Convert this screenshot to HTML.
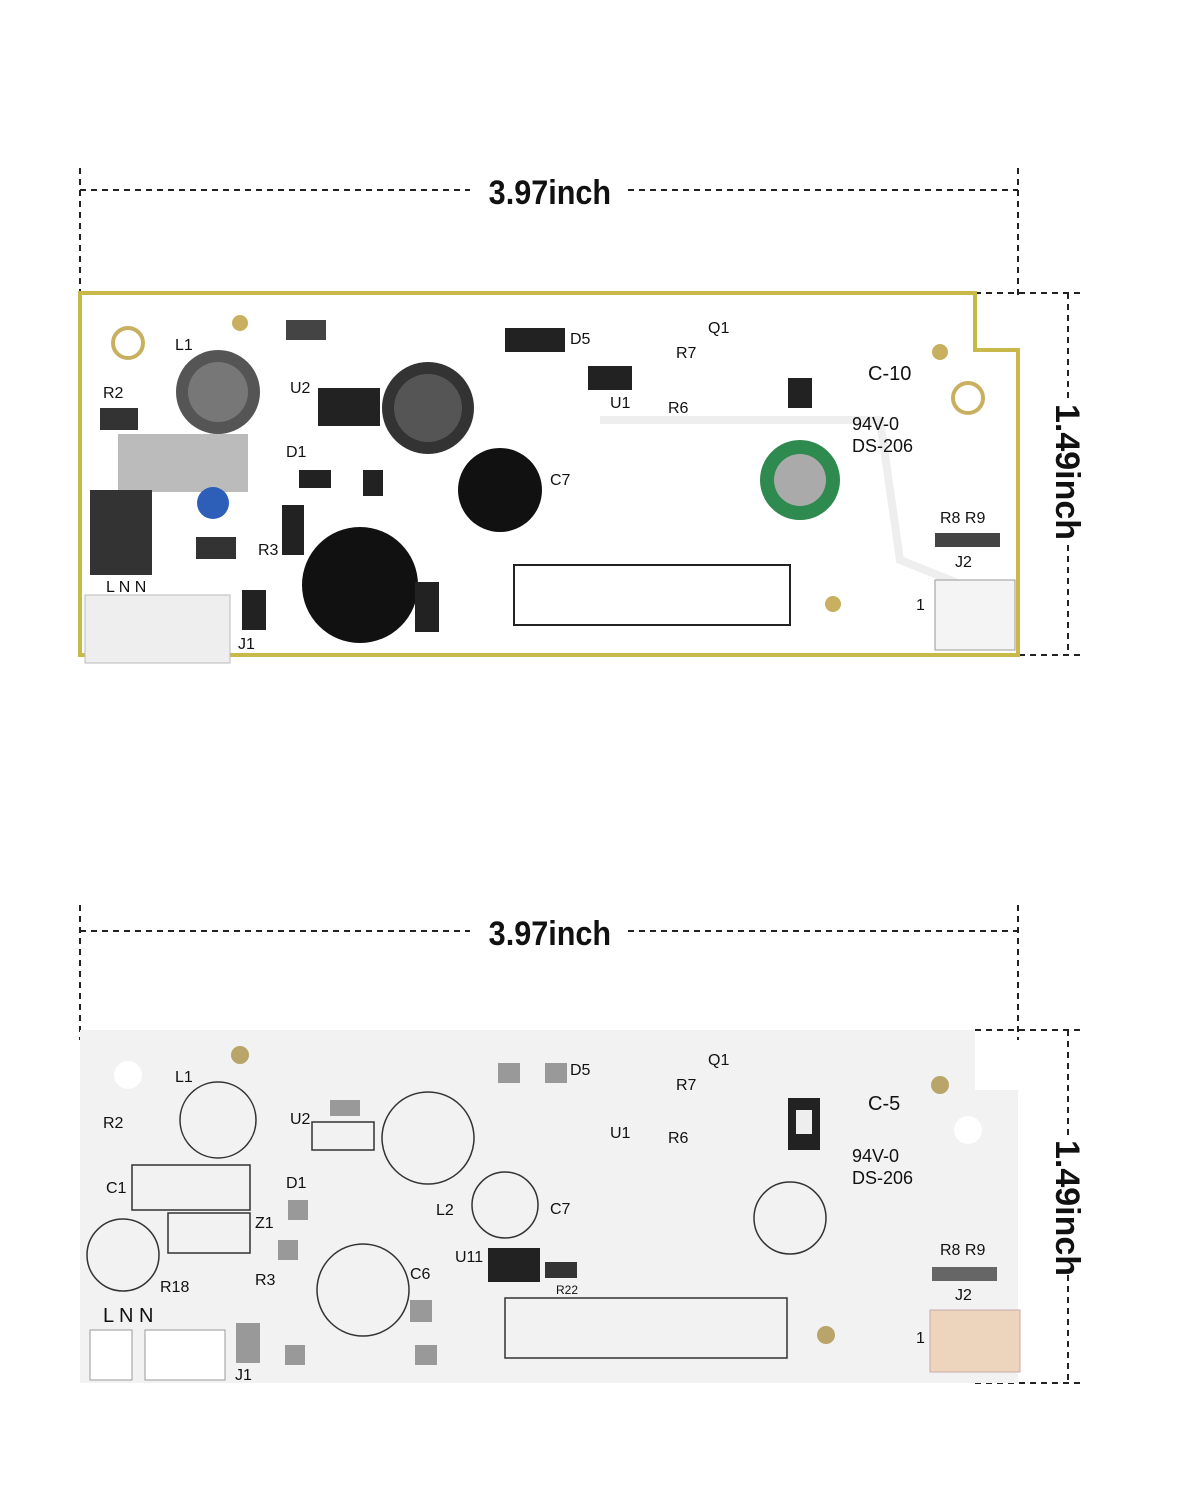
<!DOCTYPE html>
<html><head><meta charset="utf-8"><style>
html,body{margin:0;padding:0;background:#fff;}
svg{display:block;}
text{font-family:"Liberation Sans",sans-serif;}
</style></head><body>
<svg width="1200" height="1500" viewBox="0 0 1200 1500" xmlns="http://www.w3.org/2000/svg">
<g stroke="#222" stroke-width="2" stroke-dasharray="6,5" fill="none">
<line x1="80" y1="168" x2="80" y2="330"/><line x1="1018" y1="168" x2="1018" y2="300"/>
<line x1="80" y1="190" x2="470" y2="190"/><line x1="628" y1="190" x2="1018" y2="190"/>
<line x1="975" y1="293" x2="1082" y2="293"/><line x1="975" y1="655" x2="1082" y2="655"/>
<line x1="1068" y1="293" x2="1068" y2="400"/><line x1="1068" y1="545" x2="1068" y2="655"/>
<line x1="80" y1="905" x2="80" y2="1040"/><line x1="1018" y1="905" x2="1018" y2="1040"/>
<line x1="80" y1="931" x2="470" y2="931"/><line x1="628" y1="931" x2="1018" y2="931"/>
<line x1="975" y1="1030" x2="1082" y2="1030"/><line x1="975" y1="1383" x2="1082" y2="1383"/>
<line x1="1068" y1="1030" x2="1068" y2="1140"/><line x1="1068" y1="1275" x2="1068" y2="1383"/>
</g>
<g font-weight="bold" font-size="34" fill="#111">
<text x="550" y="204" text-anchor="middle" transform="scale(0.9,1) translate(61,0)">3.97inch</text>
<text x="550" y="945" text-anchor="middle" transform="scale(0.9,1) translate(61,0)">3.97inch</text>
<text transform="translate(1056,472) rotate(90)" text-anchor="middle">1.49inch</text>
<text transform="translate(1056,1208) rotate(90)" text-anchor="middle">1.49inch</text>
</g>
<!-- Board 1 -->
<path d="M80 293 H975 V350 H1018 V655 H80 Z" fill="#fff" stroke="#c9b94a" stroke-width="4"/>
<path d="M600 420 L880 420 L900 560 L1000 600" fill="none" stroke="#eee" stroke-width="8"/>
<circle cx="128" cy="343" r="15" fill="none" stroke="#c9b060" stroke-width="4"/>
<circle cx="968" cy="398" r="15" fill="none" stroke="#c9b060" stroke-width="4"/>
<circle cx="240" cy="323" r="8" fill="#c9b060"/><circle cx="940" cy="352" r="8" fill="#c9b060"/><circle cx="833" cy="604" r="8" fill="#c9b060"/>
<circle cx="218" cy="392" r="42" fill="#555"/><circle cx="218" cy="392" r="30" fill="#777"/>
<circle cx="428" cy="408" r="46" fill="#333"/><circle cx="428" cy="408" r="34" fill="#555"/>
<circle cx="500" cy="490" r="42" fill="#111"/><circle cx="360" cy="585" r="58" fill="#111"/>
<circle cx="800" cy="480" r="40" fill="#2e8a4e"/><circle cx="800" cy="480" r="26" fill="#aaa"/>
<rect x="118" y="434" width="130" height="58" fill="#bbb"/>
<circle cx="213" cy="503" r="16" fill="#2d5fb8"/>
<rect x="90" y="490" width="62" height="85" fill="#333"/>
<rect x="100" y="408" width="38" height="22" fill="#333"/><rect x="196" y="537" width="40" height="22" fill="#333"/>
<rect x="318" y="388" width="62" height="38" fill="#222"/><rect x="505" y="328" width="60" height="24" fill="#222"/>
<rect x="588" y="366" width="44" height="24" fill="#222"/><rect x="788" y="378" width="24" height="30" fill="#222"/>
<rect x="282" y="505" width="22" height="50" fill="#222"/><rect x="242" y="590" width="24" height="40" fill="#222"/>
<rect x="415" y="582" width="24" height="50" fill="#222"/><rect x="299" y="470" width="32" height="18" fill="#222"/>
<rect x="363" y="470" width="20" height="26" fill="#222"/><rect x="286" y="320" width="40" height="20" fill="#444"/>
<rect x="514" y="565" width="276" height="60" fill="none" stroke="#222" stroke-width="2"/>
<rect x="85" y="595" width="145" height="68" fill="#eee" stroke="#bbb"/>
<rect x="935" y="580" width="80" height="70" fill="#f4f4f4" stroke="#999"/>
<rect x="935" y="533" width="65" height="14" fill="#444"/>
<g font-size="16" fill="#111">
<text x="175" y="350">L1</text><text x="103" y="398">R2</text><text x="290" y="393">U2</text>
<text x="570" y="344">D5</text><text x="708" y="333">Q1</text><text x="676" y="358">R7</text>
<text x="610" y="408">U1</text><text x="668" y="413">R6</text><text x="286" y="457">D1</text>
<text x="258" y="555">R3</text><text x="550" y="485">C7</text><text x="940" y="523">R8 R9</text>
<text x="955" y="567">J2</text><text x="916" y="610">1</text><text x="238" y="649">J1</text>
<text x="106" y="592">L N  N</text><text x="868" y="380" font-size="20">C-10</text>
<text x="852" y="430" font-size="18">94V-0</text><text x="852" y="452" font-size="18">DS-206</text>
</g>
<!-- Board 2 -->
<path d="M80 1030 H975 V1090 H1018 V1383 H80 Z" fill="#f2f2f2"/>
<circle cx="128" cy="1075" r="14" fill="#fff"/><circle cx="968" cy="1130" r="14" fill="#fff"/>
<circle cx="240" cy="1055" r="9" fill="#b9a56a"/><circle cx="940" cy="1085" r="9" fill="#b9a56a"/><circle cx="826" cy="1335" r="9" fill="#b9a56a"/>
<g fill="none" stroke="#333" stroke-width="1.5">
<circle cx="218" cy="1120" r="38"/><circle cx="428" cy="1138" r="46"/><circle cx="505" cy="1205" r="33"/>
<circle cx="363" cy="1290" r="46"/><circle cx="790" cy="1218" r="36"/><circle cx="123" cy="1255" r="36"/>
<rect x="132" y="1165" width="118" height="45"/><rect x="168" y="1213" width="82" height="40"/>
<rect x="505" y="1298" width="282" height="60"/><rect x="312" y="1122" width="62" height="28"/>
</g>
<rect x="488" y="1248" width="52" height="34" fill="#222"/>
<rect x="788" y="1098" width="32" height="52" fill="#222"/><rect x="796" y="1110" width="16" height="24" fill="#eee"/>
<rect x="545" y="1262" width="32" height="16" fill="#333"/>
<rect x="930" y="1310" width="90" height="62" fill="#ecd4bd" stroke="#caa"/>
<rect x="932" y="1267" width="65" height="14" fill="#666"/>
<g fill="#999"><rect x="330" y="1100" width="30" height="16"/><rect x="498" y="1063" width="22" height="20"/><rect x="545" y="1063" width="22" height="20"/>
<rect x="288" y="1200" width="20" height="20"/><rect x="278" y="1240" width="20" height="20"/><rect x="285" y="1345" width="20" height="20"/>
<rect x="410" y="1300" width="22" height="22"/><rect x="415" y="1345" width="22" height="20"/><rect x="236" y="1323" width="24" height="40"/></g>
<rect x="90" y="1330" width="42" height="50" fill="#fff" stroke="#999"/><rect x="145" y="1330" width="80" height="50" fill="#fff" stroke="#999"/>
<g font-size="16" fill="#111">
<text x="175" y="1082">L1</text><text x="103" y="1128">R2</text><text x="290" y="1124">U2</text><text x="106" y="1193">C1</text>
<text x="570" y="1075">D5</text><text x="708" y="1065">Q1</text><text x="676" y="1090">R7</text><text x="610" y="1138">U1</text>
<text x="668" y="1143">R6</text><text x="286" y="1188">D1</text><text x="255" y="1285">R3</text><text x="550" y="1214">C7</text>
<text x="410" y="1279">C6</text><text x="436" y="1215">L2</text><text x="255" y="1228">Z1</text><text x="160" y="1292">R18</text>
<text x="940" y="1255">R8 R9</text><text x="955" y="1300">J2</text><text x="916" y="1343">1</text><text x="235" y="1380">J1</text>
<text x="103" y="1322" font-size="20">L  N    N</text><text x="868" y="1110" font-size="20">C-5</text>
<text x="852" y="1162" font-size="18">94V-0</text><text x="852" y="1184" font-size="18">DS-206</text>
<text x="455" y="1262">U11</text><text x="556" y="1294" font-size="12">R22</text>
</g>
</svg>
</body></html>
